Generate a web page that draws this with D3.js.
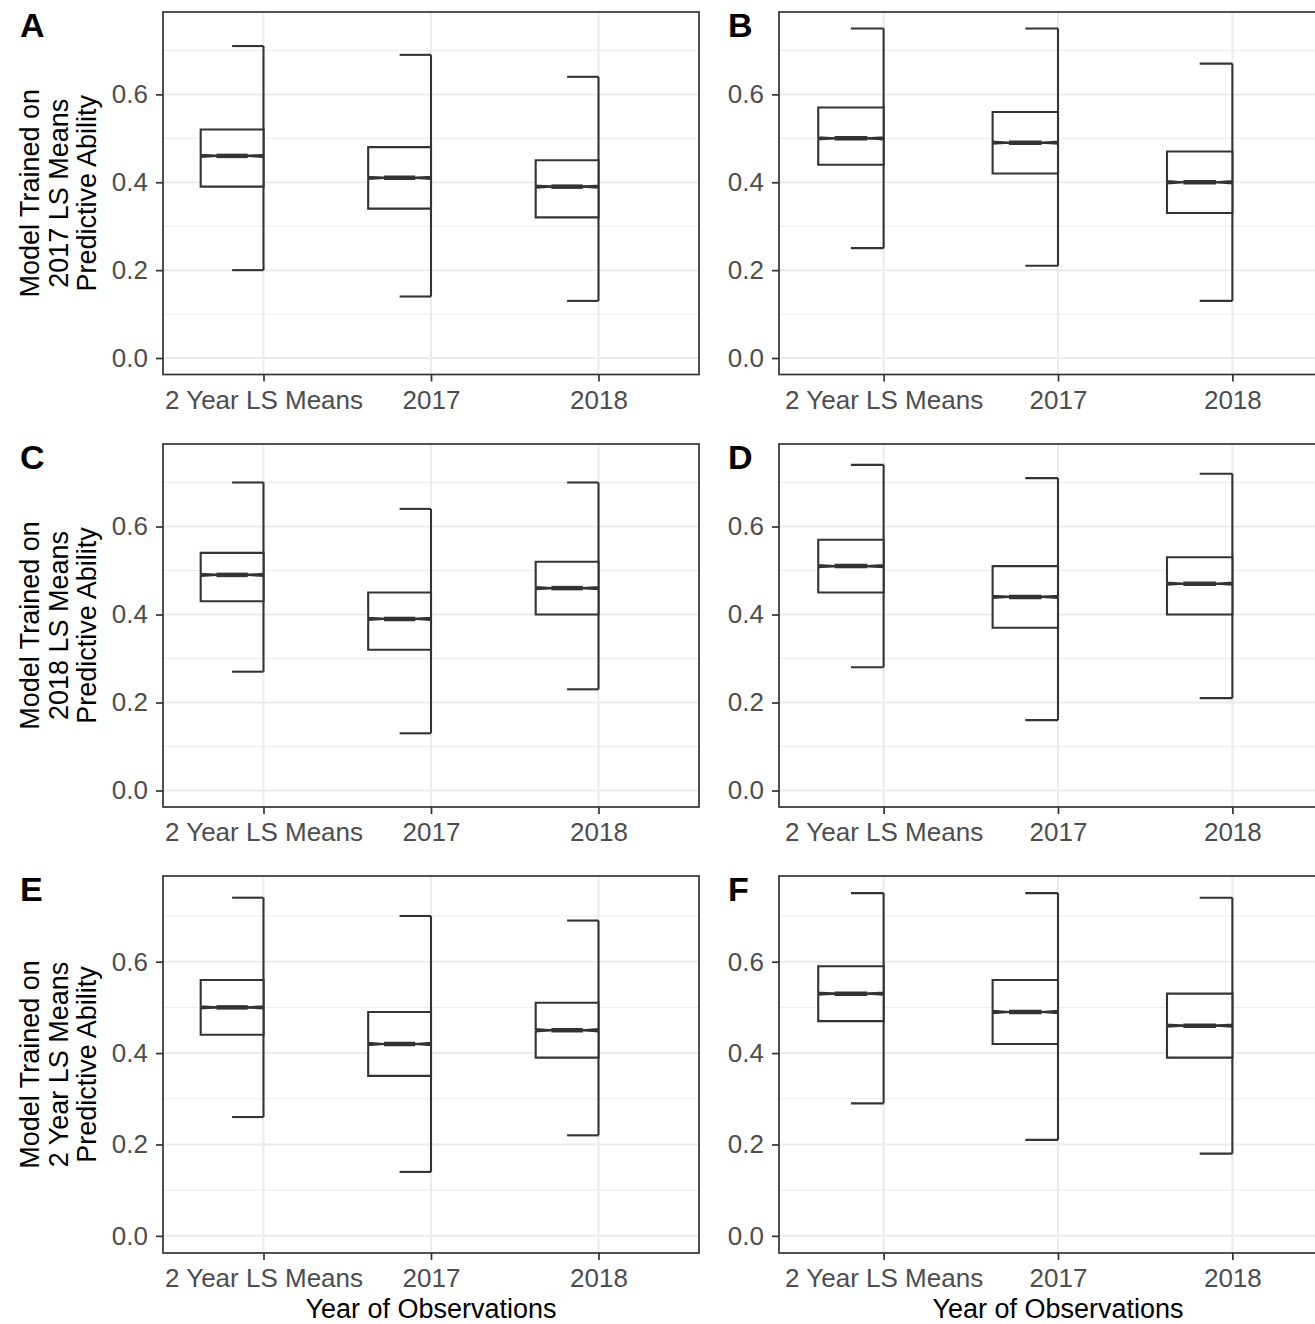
<!DOCTYPE html>
<html>
<head>
<meta charset="utf-8">
<script src="https://cdn.jsdelivr.net/npm/d3@7"></script>
<style>
  html, body { margin: 0; padding: 0; background: #fff; }
  svg { display: block; }
  text { font-family: "Liberation Sans", Arial, Helvetica, sans-serif; }
</style>
</head>
<body>
<svg id="chart" width="1315" height="1324"></svg>
<script>
// Categories on the x axis (year of observations)
const categories = ["2 Year LS Means", "2017", "2018"];

// Y axis ticks
const yMajorTicks = [0, 0.2, 0.4, 0.6];
const yMinorTicks = [0.1, 0.3, 0.5, 0.7];
const yLimits = [0, 0.75];

// Panel tags and the training set for each row
const panelTags = ["A", "B", "C", "D", "E", "F"];
const rowTitles = [
  ["Model Trained on", "2017 LS Means", "Predictive Ability"],
  ["Model Trained on", "2018 LS Means", "Predictive Ability"],
  ["Model Trained on", "2 Year LS Means", "Predictive Ability"]
];
const xTitle = "Year of Observations";

// Five-number summaries per category: [lower whisker, Q1, median, Q3, upper whisker]
const statsA = [[0.20, 0.39, 0.46, 0.52, 0.71], [0.14, 0.34, 0.41, 0.48, 0.69], [0.13, 0.32, 0.39, 0.45, 0.64]];
const statsB = [[0.25, 0.44, 0.50, 0.57, 0.75], [0.21, 0.42, 0.49, 0.56, 0.75], [0.13, 0.33, 0.40, 0.47, 0.67]];
const statsC = [[0.27, 0.43, 0.49, 0.54, 0.70], [0.13, 0.32, 0.39, 0.45, 0.64], [0.23, 0.40, 0.46, 0.52, 0.70]];
const statsD = [[0.28, 0.45, 0.51, 0.57, 0.74], [0.16, 0.37, 0.44, 0.51, 0.71], [0.21, 0.40, 0.47, 0.53, 0.72]];
const statsE = [[0.26, 0.44, 0.50, 0.56, 0.74], [0.14, 0.35, 0.42, 0.49, 0.70], [0.22, 0.39, 0.45, 0.51, 0.69]];
const statsF = [[0.29, 0.47, 0.53, 0.59, 0.75], [0.21, 0.42, 0.49, 0.56, 0.75], [0.18, 0.39, 0.46, 0.53, 0.74]];
const panelStats = [statsA, statsB, statsC, statsD, statsE, statsF];

// Half-height of the median notch, in data units
const notchHalf = 0.0025;

// ---- layout ----
const colExtents = [[163, 699], [779, 1337]];
const rowExtents = [[12, 374.5], [444, 807], [876, 1253]];

const ink = "#333333";
const tickText = "#4D4D4D";
const gridCol = "#EBEBEB";

const svg = d3.select("#chart");

panelStats.forEach((stats, i) => {
  const r = Math.floor(i / 2), c = i % 2;
  const [x0, x1] = colExtents[c];
  const [y0, y1] = rowExtents[r];

  const x = d3.scalePoint().domain(categories).range([x0, x1]).padding(0.6);
  const step = x.step();
  const span = yLimits[1] - yLimits[0];
  const y = d3.scaleLinear()
    .domain([yLimits[0] - 0.05 * span, yLimits[1] + 0.05 * span])
    .range([y1, y0]);

  const g = svg.append("g");

  // grid
  g.selectAll(".minor").data(yMinorTicks).join("line")
    .attr("x1", x0).attr("x2", x1)
    .attr("y1", d => y(d)).attr("y2", d => y(d))
    .attr("stroke", gridCol).attr("stroke-width", 1);
  g.selectAll(".major").data(yMajorTicks).join("line")
    .attr("x1", x0).attr("x2", x1)
    .attr("y1", d => y(d)).attr("y2", d => y(d))
    .attr("stroke", gridCol).attr("stroke-width", 2);
  g.selectAll(".vmajor").data(categories).join("line")
    .attr("x1", d => x(d)).attr("x2", d => x(d))
    .attr("y1", y0).attr("y2", y1)
    .attr("stroke", gridCol).attr("stroke-width", 2);

  const boxW = 0.375 * step;
  const capW = 0.1875 * step;

  stats.forEach((s, k) => {
    const [lo, q1, med, q3, hi] = s;
    const cx = x(categories[k]);
    const xmin = cx - boxW, xmax = cx;
    const indent = 0.25 * boxW;

    // whisker with caps
    g.append("line").attr("x1", cx).attr("x2", cx)
      .attr("y1", y(lo)).attr("y2", y(hi))
      .attr("stroke", ink).attr("stroke-width", 2.1);
    [lo, hi].forEach(v => {
      g.append("line").attr("x1", cx - capW).attr("x2", cx)
        .attr("y1", y(v)).attr("y2", y(v))
        .attr("stroke", ink).attr("stroke-width", 2.1);
    });

    // notched box
    const pts = [
      [xmin, y(q3)], [xmin, y(med + notchHalf)], [xmin + indent, y(med)],
      [xmin, y(med - notchHalf)], [xmin, y(q1)], [xmax, y(q1)],
      [xmax, y(med - notchHalf)], [xmax - indent, y(med)],
      [xmax, y(med + notchHalf)], [xmax, y(q3)]
    ];
    g.append("path").attr("d", d3.line()(pts) + "Z")
      .attr("fill", "#fff").attr("stroke", ink).attr("stroke-width", 2.1)
      .attr("stroke-linejoin", "miter");
    // median line across the box
    g.append("line").attr("x1", xmin).attr("x2", xmax)
      .attr("y1", y(med)).attr("y2", y(med))
      .attr("stroke", ink).attr("stroke-width", 2.1);
    // thick median segment inside the notch
    g.append("line").attr("x1", xmin + indent).attr("x2", xmax - indent)
      .attr("y1", y(med)).attr("y2", y(med))
      .attr("stroke", ink).attr("stroke-width", 4.5);
  });

  // panel border
  g.append("rect").attr("x", x0).attr("y", y0)
    .attr("width", x1 - x0).attr("height", y1 - y0)
    .attr("fill", "none").attr("stroke", ink).attr("stroke-width", 1.7);

  // y axis
  const ya = g.append("g").attr("transform", `translate(${x0},0)`)
    .call(d3.axisLeft(y).tickValues(yMajorTicks).tickFormat(d3.format(".1f"))
      .tickSize(7).tickPadding(8));
  ya.select(".domain").remove();
  ya.selectAll(".tick line").attr("stroke", ink).attr("stroke-width", 1.7);
  ya.selectAll(".tick text").attr("fill", tickText)
    .style("font-size", "26px");

  // x axis
  const xa = g.append("g").attr("transform", `translate(0,${y1})`)
    .call(d3.axisBottom(x).tickSize(7).tickPadding(5));
  xa.select(".domain").remove();
  xa.selectAll(".tick line").attr("stroke", ink).attr("stroke-width", 1.7);
  xa.selectAll(".tick text").attr("fill", tickText)
    .style("font-size", "26px").attr("dy", "0.85em");

  // panel tag
  g.append("text").attr("x", c === 0 ? 20 : 728).attr("y", y0 + 25)
    .attr("font-weight", "bold").style("font-size", "34px")
    .attr("fill", "#000").text(panelTags[i]);

  // y title (left column only)
  if (c === 0) {
    const cy = (y0 + y1) / 2;
    const baselines = [39, 67.5, 96];
    rowTitles[r].forEach((line, j) => {
      g.append("text")
        .attr("transform", `translate(${baselines[j]},${cy}) rotate(-90)`)
        .attr("text-anchor", "middle").style("font-size", "27px")
        .attr("fill", "#000").text(line);
    });
  }

  // x title (bottom row only)
  if (r === 2) {
    g.append("text").attr("x", (x0 + x1) / 2).attr("y", 1318)
      .attr("text-anchor", "middle").style("font-size", "27px")
      .attr("fill", "#000").text(xTitle);
  }
});
</script>
</body>
</html>
